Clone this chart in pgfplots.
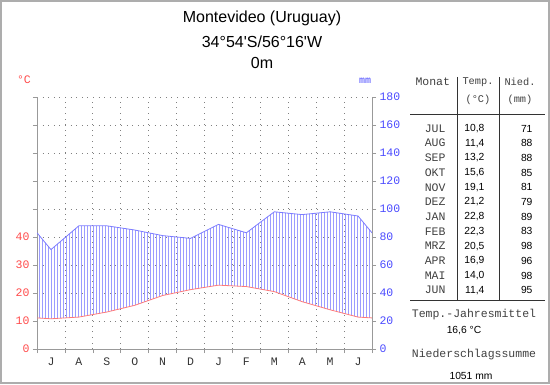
\documentclass[border=0pt]{standalone}
\usepackage{fontspec}
\setmainfont{Liberation Sans}
\newfontfamily\arial{Liberation Sans}
\newfontfamily\mono{Liberation Mono}
\usepackage{pgfplots}
\usepackage{pgfplotstable}
\pgfplotsset{compat=1.18}
\usepgfplotslibrary{fillbetween}
\usetikzlibrary{patterns}
\definecolor{tred}{HTML}{FF4A4A}
\definecolor{tline}{HTML}{FF7A7A}
\definecolor{pblue}{HTML}{4A4AFF}
\definecolor{pline}{HTML}{7C7CFF}
\definecolor{phatch}{HTML}{9C9CFF}
\definecolor{axgray}{HTML}{999999}
\definecolor{grd}{HTML}{808080}
\pgfdeclarepatternformonly{vlines3}{\pgfqpoint{-1pt}{-1pt}}{\pgfqpoint{1pt}{4pt}}{\pgfqpoint{3pt}{3pt}}{%
  \pgfsetlinewidth{0.7pt}%
  \pgfpathmoveto{\pgfqpoint{0pt}{-0.1pt}}%
  \pgfpathlineto{\pgfqpoint{0pt}{3.1pt}}%
  \pgfusepath{stroke}}
\pgfplotstableread{
x T P
0 11.1 83
0.5 10.8 71
1.5 11.4 88
2.5 13.2 88
3.5 15.6 85
4.5 19.1 81
5.5 21.2 79
6.5 22.8 89
7.5 22.3 83
8.5 20.5 98
9.5 16.9 96
10.5 14.0 98
11.5 11.4 95
12 11.1 83
}\climate
\newcommand{\tickfont}{\mono\fontsize{11.5}{12}\selectfont}
\newcommand{\hdrfont}{\mono\fontsize{10.3}{12}\selectfont}
\newcommand{\valfont}{\arial\fontsize{10.3}{12}\selectfont}
\begin{document}
\begin{tikzpicture}
\draw[axgray!80, line width=2pt] (1pt,1pt) rectangle (549pt,383pt);
\begin{axis}[
  at={(37pt,35pt)}, anchor=south west,
  scale only axis, width=335pt, height=252pt,
  xmin=0, xmax=12, ymin=0, ymax=90,
  axis x line=bottom, axis y line=left,
  axis line style={-, axgray, line width=0.8pt},
  xtick={0,...,12}, xticklabels={},
  extra x ticks={0.5,1.5,...,11.5},
  extra x tick labels={J,A,S,O,N,D,J,F,M,A,M,J},
  extra x tick style={grid=none, major tick length=0pt, tick label style={yshift=-5pt}},
  ytick={0,10,...,90},
  yticklabels={0,10,20,30,40,,,,,},
  tick align=outside, major tick length=4pt,
  tick style={axgray, line width=0.6pt},
  xmajorgrids, ymajorgrids,
  grid style={grd, line width=0.7pt, dash pattern=on 0.8pt off 4.8pt},
  /pgf/number format/assume math mode=true,
  ticklabel style={font=\tickfont},
  yticklabel style={tred},
  xticklabel style={black!80},
]
\addplot[name path=prec, pline, line width=0.8pt] table[x=x, y expr=\thisrow{P}/2] {\climate};
\addplot[name path=temp, tline, line width=0.8pt] table[x=x, y=T] {\climate};
\addplot[draw=none, pattern=vlines3, pattern color=phatch] fill between[of=prec and temp];
\end{axis}
\begin{axis}[
  at={(37pt,35pt)}, anchor=south west,
  scale only axis, width=335pt, height=252pt,
  xmin=0, xmax=12, ymin=0, ymax=180,
  axis x line=none, axis y line=right,
  axis line style={-, axgray, line width=0.8pt},
  ytick={0,20,...,180},
  tick align=outside, major tick length=4pt,
  tick style={axgray, line width=0.6pt},
  /pgf/number format/assume math mode=true,
  ticklabel style={font=\tickfont, pblue},
]
\addplot[draw=none] coordinates {(0,0) (12,180)};
\end{axis}
\begin{scope}[x=1pt,y=1pt]
\node[font=\arial\fontsize{16}{19}\selectfont] at (262,366) {Montevideo (Uruguay)};
\node[font=\arial\fontsize{16}{19}\selectfont] at (262,342) {34°54'S/56°16'W};
\node[font=\arial\fontsize{16}{19}\selectfont] at (262,321) {0m};
\node[font=\tickfont, tred] at (24,304) {°C};
\node[font=\mono\fontsize{10}{12}\selectfont, pblue] at (365,303) {mm};
\draw[black!80, line width=0.8pt] (457,307) -- (457,84);
\draw[black!80, line width=0.8pt] (499,307) -- (499,84);
\draw[black!80, line width=0.8pt] (410,270) -- (545,270);
\draw[black!80, line width=0.8pt] (410,84) -- (545,84);
\node[font=\tickfont, anchor=west, black!75] at (412,302) {Monat};
\node[font=\hdrfont, black!75] at (478,302) {Temp.};
\node[font=\hdrfont, black!75] at (478,284) {(°C)};
\node[font=\hdrfont, black!75] at (520,302) {Nied.};
\node[font=\hdrfont, black!75] at (520,284) {(mm)};
\foreach \m/\t/\p [count=\i from 0] in {JUL/{10,8}/71,AUG/{11,4}/88,SEP/{13,2}/88,OKT/{15,6}/85,NOV/{19,1}/81,DEZ/{21,2}/79,JAN/{22,8}/89,FEB/{22,3}/83,MRZ/{20,5}/98,APR/{16,9}/96,MAI/{14,0}/98,JUN/{11,4}/95}{
  \pgfmathsetmacro{\yy}{384-128.5-14.7*\i}
  \node[font=\tickfont, anchor=east, black!75] at (449,\yy) {\m};
  \node[font=\valfont, anchor=east] at (488,\yy) {\t};
  \node[font=\valfont, anchor=east] at (536,\yy) {\p};
}
\node[font=\tickfont, black!75] at (474,69) {Temp.-Jahresmittel};
\node[font=\valfont] at (464,53) {16,6 °C};
\node[font=\tickfont, black!75] at (474,29) {Niederschlagssumme};
\node[font=\valfont] at (471,8) {1051 mm};
\end{scope}
\end{tikzpicture}
\end{document}
